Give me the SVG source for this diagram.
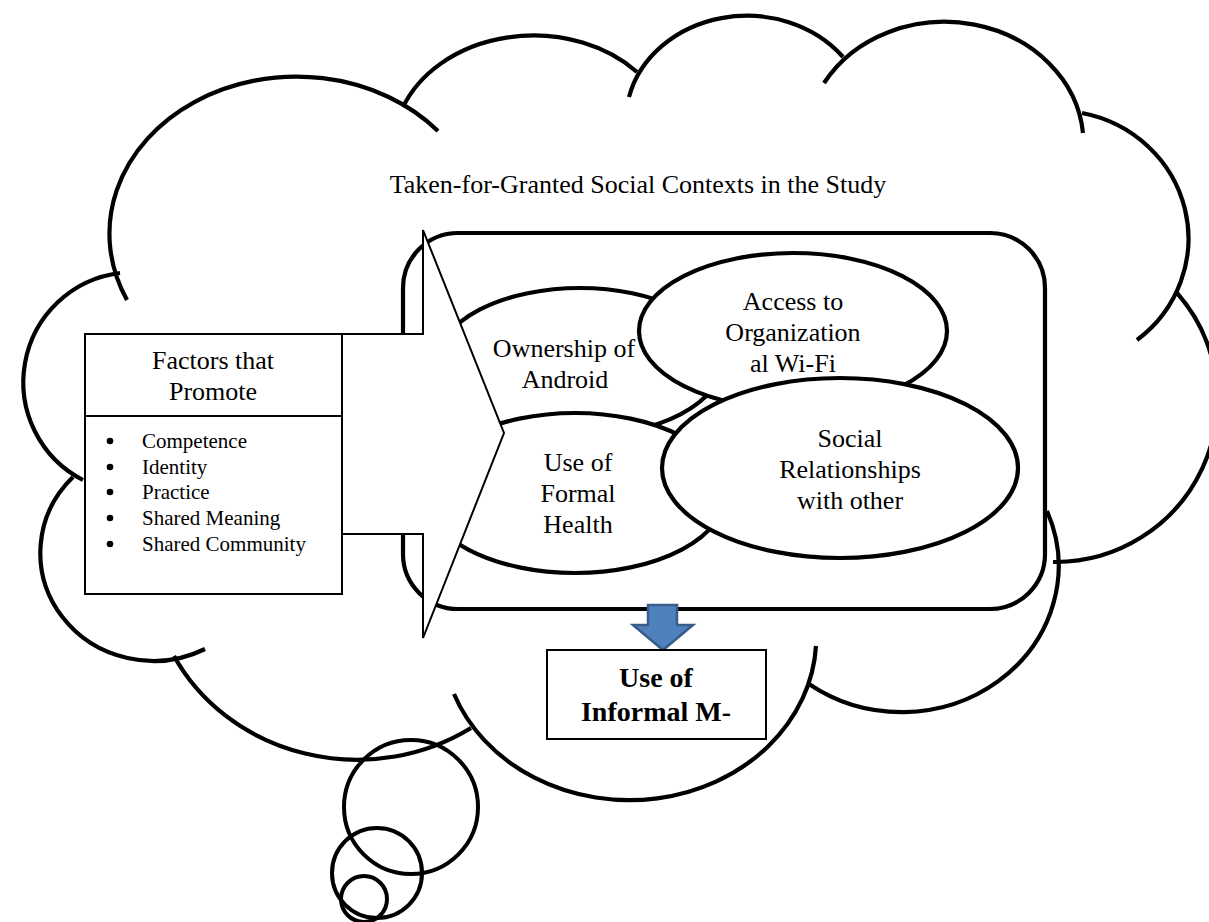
<svg xmlns="http://www.w3.org/2000/svg" width="1209" height="922" viewBox="0 0 1209 922">
  <style>
    .cloud { fill: none; stroke: #000; stroke-width: 4.2; }
    .bubble { fill: none; stroke: #000; stroke-width: 4; }
    .thick { fill: #fff; stroke: #000; stroke-width: 4.2; }
    .thin { fill: #fff; stroke: #000; stroke-width: 2; }
    .t { font-family: "Liberation Serif", "Times New Roman", serif; font-size: 26px; fill: #000; text-anchor: middle; }
    .b { font-family: "Liberation Serif", "Times New Roman", serif; font-size: 21px; fill: #000; }
    .bold { font-family: "Liberation Serif", "Times New Roman", serif; font-size: 28px; font-weight: bold; fill: #000; text-anchor: middle; }
  </style>
  <rect width="1209" height="922" fill="#fff"/>

  <g id="cloud">
    <path class="cloud" d="M127,300 A187,157 0 0 1 438,131"/>
    <path class="cloud" d="M403,107 A140,112 0 0 1 637,72"/>
    <path class="cloud" d="M629,97 A121,105 0 0 1 843,57"/>
    <path class="cloud" d="M824,83 A139,122 0 0 1 1083,133"/>
    <path class="cloud" d="M1082,113 A132,128 0 0 1 1137,340"/>
    <path class="cloud" d="M1177,293 A162,162 0 0 1 1053,562"/>
    <path class="cloud" d="M1047,511 A157,146 0 0 1 809,684"/>
    <path class="cloud" d="M816,646 A187,163 0 0 1 454,694"/>
    <path class="cloud" d="M471,728 A206,191 0 0 1 174,656"/>
    <path class="cloud" d="M205,649 A113,108 0 0 1 73,477"/>
    <path class="cloud" d="M120,273 A110,110 0 0 0 83,480"/>
    <text class="t" x="638" y="193">Taken-for-Granted Social Contexts in the Study</text>
  </g>

  <g id="thought-bubbles">
    <circle class="bubble" cx="411" cy="807" r="67"/>
    <circle class="bubble" cx="377" cy="873" r="45"/>
    <circle class="bubble" cx="364" cy="899" r="23"/>
  </g>

  <g id="context-box">
    <rect class="thick" x="403" y="233" width="642" height="376" rx="55" ry="55"/>
  </g>

  <g id="ownership">
    <ellipse class="thick" cx="580" cy="362" rx="142" ry="74"/>
    <text class="t" x="564" y="357">Ownership of</text>
    <text class="t" x="565" y="388">Android</text>
  </g>

  <g id="access">
    <ellipse class="thick" cx="793" cy="331" rx="154" ry="78"/>
    <text class="t" x="793" y="310">Access to</text>
    <text class="t" x="793" y="341">Organization</text>
    <text class="t" x="793" y="372">al Wi-Fi</text>
  </g>

  <g id="formal-health">
    <ellipse class="thick" cx="575" cy="493" rx="151" ry="80"/>
    <text class="t" x="578" y="471">Use of</text>
    <text class="t" x="578" y="502">Formal</text>
    <text class="t" x="578" y="533">Health</text>
  </g>

  <g id="social">
    <ellipse class="thick" cx="840" cy="468" rx="178" ry="90"/>
    <text class="t" x="850" y="447">Social</text>
    <text class="t" x="850" y="478">Relationships</text>
    <text class="t" x="850" y="509">with other</text>
  </g>

  <g id="connectors">
    <polygon id="big-arrow" class="thin" points="342,334 423,334 423,230 504,433 423,638 423,534 342,534"/>
    <polygon id="down-arrow" points="648,605 677,605 677,625 693,625 663,650 633,625 648,625" fill="#4F81BD" stroke="#385D8A" stroke-width="2.5" stroke-linejoin="miter"/>
  </g>

  <g id="factors">
    <rect class="thin" x="85" y="334" width="257" height="260"/>
    <line x1="85" y1="416" x2="342" y2="416" stroke="#000" stroke-width="2"/>
    <text class="t" x="213" y="369">Factors that</text>
    <text class="t" x="213" y="400">Promote</text>
    <circle cx="110" cy="441" r="3.3"/>
    <circle cx="110" cy="467" r="3.3"/>
    <circle cx="110" cy="492" r="3.3"/>
    <circle cx="110" cy="518" r="3.3"/>
    <circle cx="110" cy="544" r="3.3"/>
    <text class="b" x="142" y="448">Competence</text>
    <text class="b" x="142" y="474">Identity</text>
    <text class="b" x="142" y="499">Practice</text>
    <text class="b" x="142" y="525">Shared Meaning</text>
    <text class="b" x="142" y="551">Shared Community</text>
  </g>

  <g id="informal-use">
    <rect class="thin" x="547" y="650" width="219" height="89"/>
    <text class="bold" x="656" y="687">Use of</text>
    <text class="bold" x="656" y="721">Informal M-</text>
  </g>
</svg>
